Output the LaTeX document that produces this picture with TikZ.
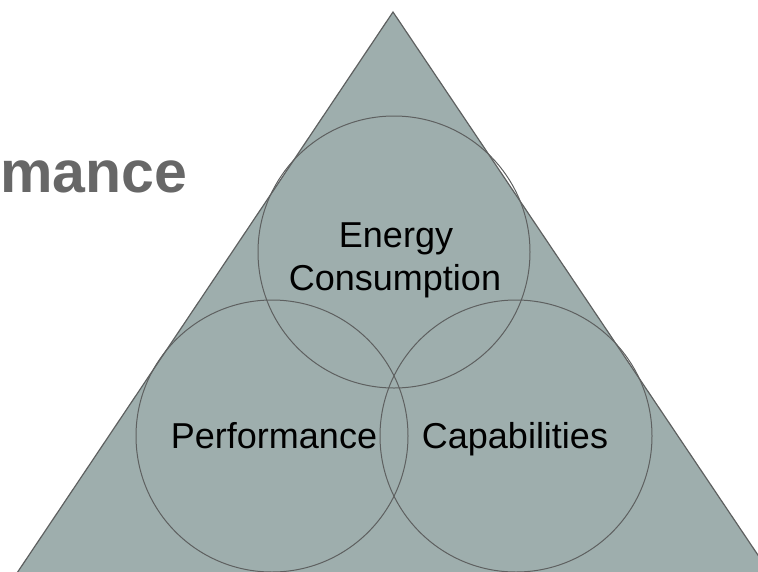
\documentclass[tikz,border=0pt]{standalone}
\usepackage{fontspec}
\setmainfont{Liberation Sans}
\definecolor{trifill}{HTML}{9EAEAD}
\definecolor{edgegray}{HTML}{5E6060}
\definecolor{titlegray}{HTML}{676767}
\begin{document}
\begin{tikzpicture}[x=1pt,y=-1pt,
  ring/.style={circle, draw=edgegray, line width=1pt, inner sep=0pt, minimum size=272pt},
  label/.style={inner sep=0pt, anchor=base, font=\fontsize{36}{40}\selectfont, text=black},
  title/.style={inner sep=0pt, anchor=base west, font=\fontsize{59}{64}\selectfont\bfseries, text=titlegray}]
\useasboundingbox (0,0) rectangle (758,571);
\begin{scope}
\clip (0,0) rectangle (758,571);
\fill[trifill, draw=edgegray, line width=1.2pt] (393,12) -- (17,573) -- (770,573) -- cycle;
\node[ring] (energy) at (394,252) {};
\node[ring] (perf) at (272,436) {};
\node[ring] (capab) at (516,436) {};
\end{scope}
\node[title] (mance) at (0,192) {mance};
\node[label] (t1) at (396,247) {Energy};
\node[label] (t2) at (395,290) {Consumption};
\node[label] (t3) at (274,448) {Performance};
\node[label] (t4) at (515,448) {Capabilities};
\end{tikzpicture}
\end{document}
